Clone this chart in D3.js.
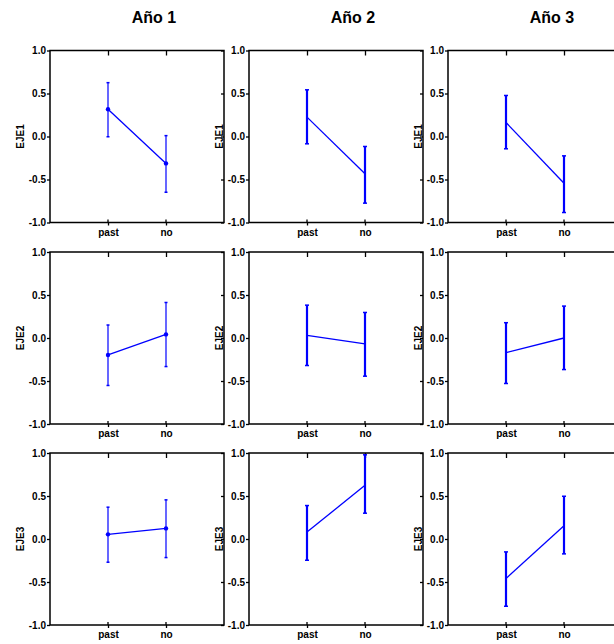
<!DOCTYPE html>
<html>
<head>
<meta charset="utf-8">
<script src="https://cdn.jsdelivr.net/npm/d3@7"></script>
<style>
  body { margin: 0; background: #fff; }
  svg { display: block; font-family: "Liberation Sans", Arial, sans-serif; }
</style>
</head>
<body>
<svg id="chart" width="614" height="644"></svg>
<script>
const categories = ["past", "no"];
const years = ["Año 1", "Año 2", "Año 3"];
const axesNames = ["EJE1", "EJE2", "EJE3"];
const yTicks = [-1, -0.5, 0, 0.5, 1];

// [year][category]
const eje1Mean = [[0.316, -0.313], [0.225, -0.434], [0.163, -0.543]];
const eje1Low  = [[-0.003, -0.648], [-0.085, -0.775], [-0.143, -0.884]];
const eje1High = [[0.626, 0.01], [0.543, -0.116], [0.477, -0.225]];

const eje2Mean = [[-0.197, 0.042], [0.031, -0.069], [-0.170, 0.0]];
const eje2Low  = [[-0.552, -0.332], [-0.320, -0.444], [-0.529, -0.367]];
const eje2High = [[0.151, 0.413], [0.382, 0.297], [0.178, 0.371]];

const eje3Mean = [[0.054, 0.123], [0.081, 0.624], [-0.459, 0.154]];
const eje3Low  = [[-0.270, -0.216], [-0.247, 0.30], [-0.782, -0.173]];
const eje3High = [[0.370, 0.455], [0.389, 0.979], [-0.150, 0.497]];

const means = [eje1Mean, eje2Mean, eje3Mean];
const lows = [eje1Low, eje2Low, eje3Low];
const highs = [eje1High, eje2High, eje3High];

const svg = d3.select("#chart");
const colLeft = [50, 249, 448];
const rowTop = [50.5, 252, 453];
const W = 174, H = 172;
const blue = "#0000ff";

const x = d3.scalePoint().domain(categories).range([0, W]).padding(1);
const y = d3.scaleLinear().domain([-1, 1]).range([H, 0]);

// titles
years.forEach((t, c) => {
  svg.append("text")
    .attr("x", colLeft[c] + W / 2 + 17)
    .attr("y", 23)
    .attr("text-anchor", "middle")
    .attr("font-size", 16)
    .attr("font-weight", "bold")
    .text(t);
});

axesNames.forEach((axName, r) => {
  years.forEach((yr, c) => {
    const g = svg.append("g").attr("transform", `translate(${colLeft[c]},${rowTop[r]})`);

    const la = g.append("g").call(
      d3.axisLeft(y).tickValues(yTicks).tickFormat(d => d.toFixed(1)).tickSize(3).tickPadding(1)
    );
    const ba = g.append("g").attr("transform", `translate(0,${H})`).call(
      d3.axisBottom(x).tickSize(3).tickPadding(3)
    );
    const ra = g.append("g").attr("transform", `translate(${W},0)`).call(
      d3.axisRight(y).tickValues(yTicks).tickFormat("").tickSize(-3)
    );
    const ta = g.append("g").call(
      d3.axisTop(x).tickFormat("").tickSize(-5)
    );
    [la, ba, ra, ta].forEach(a => {
      a.select(".domain").remove();
      a.selectAll("line").attr("stroke", "#000").attr("stroke-width", 1.3);
      a.selectAll("text")
        .attr("font-family", "'Liberation Sans', Arial, sans-serif")
        .attr("font-size", 10).attr("font-weight", "bold").attr("fill", "#000");
    });
    g.selectAll(".btin").data(categories).enter().append("line")
      .attr("x1", d => x(d)).attr("x2", d => x(d))
      .attr("y1", H - 3).attr("y2", H)
      .attr("stroke", "#000").attr("stroke-width", 1.3);

    g.append("rect").attr("x", 0).attr("y", 0).attr("width", W).attr("height", H)
      .attr("fill", "none").attr("stroke", "#000").attr("stroke-width", 1.5);

    g.append("text")
      .attr("transform", `translate(-26.5,${y(0)}) rotate(-90)`)
      .attr("text-anchor", "middle")
      .attr("font-size", 10).attr("font-weight", "bold")
      .text(axName);

    const m = means[r][c], lo = lows[r][c], hi = highs[r][c];
    const pts = categories.map((cat, i) => ({ cat, m: m[i], lo: lo[i], hi: hi[i] }));
    const first = c === 0;
    const ebw = first ? 1.2 : 2.2;
    const capw = first ? 1.5 : 2;

    g.append("path")
      .datum(pts)
      .attr("fill", "none").attr("stroke", blue).attr("stroke-width", 1.3)
      .attr("d", d3.line().x(d => x(d.cat)).y(d => y(d.m)));

    const eb = g.selectAll(".eb").data(pts).enter().append("g");
    eb.append("line")
      .attr("x1", d => x(d.cat)).attr("x2", d => x(d.cat))
      .attr("y1", d => y(d.lo)).attr("y2", d => y(d.hi))
      .attr("stroke", blue).attr("stroke-width", ebw);
    eb.append("line")
      .attr("x1", d => x(d.cat) - capw).attr("x2", d => x(d.cat) + capw)
      .attr("y1", d => y(d.hi)).attr("y2", d => y(d.hi))
      .attr("stroke", blue).attr("stroke-width", 1.5);
    eb.append("line")
      .attr("x1", d => x(d.cat) - capw).attr("x2", d => x(d.cat) + capw)
      .attr("y1", d => y(d.lo)).attr("y2", d => y(d.lo))
      .attr("stroke", blue).attr("stroke-width", 1.5);
    if (first) {
      eb.append("circle")
        .attr("cx", d => x(d.cat)).attr("cy", d => y(d.m)).attr("r", 2.2)
        .attr("fill", blue);
    }
  });
});
</script>
</body>
</html>
